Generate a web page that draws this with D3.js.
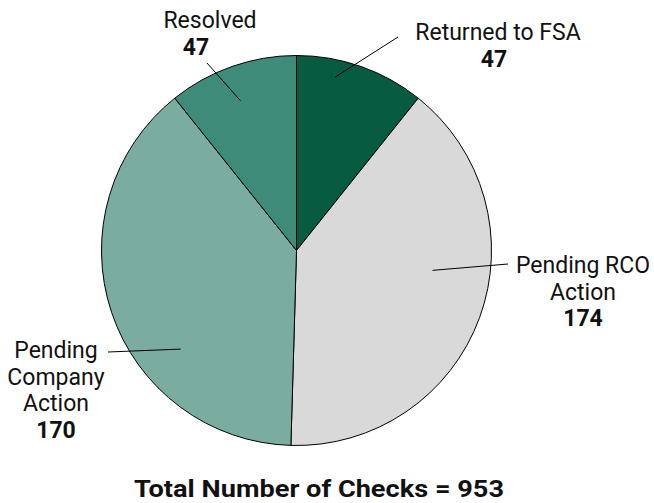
<!DOCTYPE html>
<html><head><meta charset="utf-8">
<script src="https://cdn.jsdelivr.net/npm/d3@7"></script>
<style>body{margin:0;background:#fff}svg{display:block}text{font-family:Roboto,sans-serif;fill:#111}</style>
</head><body><svg id="c" width="654" height="503"></svg>
<script>
const categories = ["Returned to FSA", "Pending RCO Action", "Pending Company Action", "Resolved"];
const values = [47, 174, 170, 47];
const totalLabel = "Total Number of Checks = 953";
const colors = ["#065b40", "#d9d9d9", "#7aada0", "#3f8b79"];

// label layout (annotation positions, not data)
const labelLines = [["Returned to FSA"], ["Pending RCO", "Action"], ["Pending", "Company", "Action"], ["Resolved"]];
const layout = [
  {x:498, y:40, vx:494, inA:12.5, inR:0.91, ox:398, oy:37},
  {x:583, y:273, vx:583, inA:98.3, inR:0.705, ox:508, oy:264},
  {x:56, y:358, vx:56, inA:229.6, inR:0.78, ox:108, oy:352},
  {x:210, y:28, vx:196, inA:339.5, inR:0.82, ox:207, oy:63}
];

const svg = d3.select("#c");
const cx = 296.5, cy = 250.5, R = 195;
const g = svg.append("g").attr("transform", `translate(${cx},${cy})`);
const pie = d3.pie().sort(null).value(d => d)(values);
const arc = d3.arc().innerRadius(0).outerRadius(R);
g.selectAll("path").data(pie).join("path")
  .attr("d", arc).attr("fill", (d,i) => colors[i])
  .attr("stroke", "#000").attr("stroke-width", 1);

const lh = 26.5, fs = 23;
layout.forEach((L, i) => {
  const a = L.inA * Math.PI / 180;
  const ix = cx + Math.sin(a) * R * L.inR, iy = cy - Math.cos(a) * R * L.inR;
  svg.append("line").attr("x1", ix).attr("y1", iy).attr("x2", L.ox).attr("y2", L.oy)
    .attr("stroke", "#000").attr("stroke-width", 1);
  const lines = labelLines[i];
  lines.forEach((t, j) => {
    svg.append("text").attr("x", L.x).attr("y", L.y + j * lh)
      .attr("text-anchor", "middle").attr("font-size", fs).text(t);
  });
  svg.append("text").attr("x", L.vx).attr("y", L.y + lines.length * lh)
    .attr("text-anchor", "middle").attr("font-size", fs).attr("font-weight", "bold").text(values[i]);
});

svg.append("text").attr("x", 319).attr("y", 497).attr("text-anchor", "middle")
  .attr("font-size", fs).attr("font-weight", "bold")
  .attr("textLength", 370).attr("lengthAdjust", "spacingAndGlyphs").text(totalLabel);
</script></body></html>
